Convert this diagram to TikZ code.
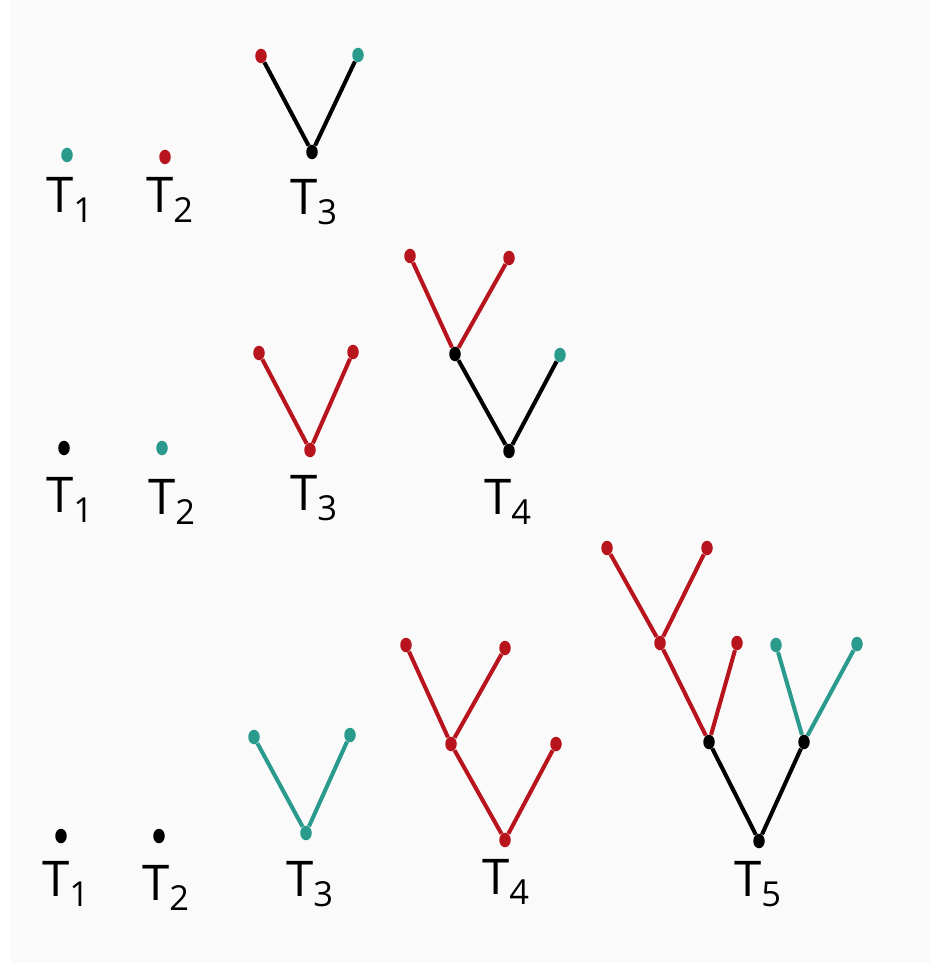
\documentclass[tikz,border=0pt]{standalone}
\usepackage{fontspec}
\newfontfamily\handfont{Open Sans}
\usetikzlibrary{shapes.geometric}
\definecolor{leafred}{HTML}{B8141E}
\definecolor{leafteal}{HTML}{2A9A8C}
\definecolor{paper}{HTML}{FAFAFA}
\tikzset{
  dot/.style={ellipse, fill=#1, inner sep=0pt,
              minimum width=2.3mm, minimum height=2.9mm},
  dot/.default=black,
  branch/.style={line width=2.3pt, #1},
  branch/.default=black,
  tlabel/.style={font=\handfont\fontsize{28}{30}\selectfont}
}
\begin{document}
\begin{tikzpicture}[x=0.2mm, y=-0.2mm]
  \useasboundingbox (0,0) rectangle (930,963);
  \fill[paper] (10,0) rectangle (930,963);

  % Row 1
  \node[dot=leafteal] (a1) at (67,155) {};
  \node[dot=leafred] (a2) at (165,157) {};
  \node[dot=leafred] (a3l) at (261,56) {};
  \node[dot=leafteal] (a3r) at (358,55) {};
  \node[dot] (a3) at (312,152) {};
  \draw[branch] (a3) -- (a3l);
  \draw[branch] (a3) -- (a3r);
  \node[tlabel] (ta1) at (70,200) {T\textsubscript{1}};
  \node[tlabel] (ta2) at (170,200) {T\textsubscript{2}};
  \node[tlabel] (ta3) at (314,202) {T\textsubscript{3}};

  % Row 2
  \node[dot] (b1) at (64,448) {};
  \node[dot=leafteal] (b2) at (162,448) {};
  \node[dot=leafred] (b3l) at (259,353) {};
  \node[dot=leafred] (b3r) at (353,352) {};
  \node[dot=leafred] (b3) at (310,450) {};
  \draw[branch=leafred] (b3) -- (b3l);
  \draw[branch=leafred] (b3) -- (b3r);
  \node[dot=leafred] (b4ll) at (410,256) {};
  \node[dot=leafred] (b4lr) at (509,258) {};
  \node[dot] (b4m) at (455,354) {};
  \node[dot=leafteal] (b4r) at (560,355) {};
  \node[dot] (b4) at (509,451) {};
  \draw[branch=leafred] (b4m) -- (b4ll);
  \draw[branch=leafred] (b4m) -- (b4lr);
  \draw[branch] (b4) -- (b4m);
  \draw[branch] (b4) -- (b4r);
  \node[tlabel] (tb1) at (70,500) {T\textsubscript{1}};
  \node[tlabel] (tb2) at (172,502) {T\textsubscript{2}};
  \node[tlabel] (tb3) at (314,498) {T\textsubscript{3}};
  \node[tlabel] (tb4) at (508,502) {T\textsubscript{4}};

  % Row 3
  \node[dot] (c1) at (61,836) {};
  \node[dot] (c2) at (159,836) {};
  \node[dot=leafteal] (c3l) at (254,737) {};
  \node[dot=leafteal] (c3r) at (350,735) {};
  \node[dot=leafteal] (c3) at (306,833) {};
  \draw[branch=leafteal] (c3) -- (c3l);
  \draw[branch=leafteal] (c3) -- (c3r);
  \node[dot=leafred] (c4ll) at (406,645) {};
  \node[dot=leafred] (c4lr) at (505,648) {};
  \node[dot=leafred] (c4m) at (451,744) {};
  \node[dot=leafred] (c4r) at (556,744) {};
  \node[dot=leafred] (c4) at (505,840) {};
  \draw[branch=leafred] (c4m) -- (c4ll);
  \draw[branch=leafred] (c4m) -- (c4lr);
  \draw[branch=leafred] (c4) -- (c4m);
  \draw[branch=leafred] (c4) -- (c4r);
  \node[dot=leafred] (c5lll) at (607,548) {};
  \node[dot=leafred] (c5llr) at (707,548) {};
  \node[dot=leafred] (c5lm) at (660,643) {};
  \node[dot=leafred] (c5lr) at (737,643) {};
  \node[dot] (c5l) at (709,742) {};
  \node[dot=leafteal] (c5rl) at (776,645) {};
  \node[dot=leafteal] (c5rr) at (857,644) {};
  \node[dot] (c5r) at (804,742) {};
  \node[dot] (c5) at (759,841) {};
  \draw[branch=leafred] (c5lm) -- (c5lll);
  \draw[branch=leafred] (c5lm) -- (c5llr);
  \draw[branch=leafred] (c5l) -- (c5lm);
  \draw[branch=leafred] (c5l) -- (c5lr);
  \draw[branch=leafteal] (c5r) -- (c5rl);
  \draw[branch=leafteal] (c5r) -- (c5rr);
  \draw[branch] (c5) -- (c5l);
  \draw[branch] (c5) -- (c5r);
  \node[tlabel] (tc1) at (66,884) {T\textsubscript{1}};
  \node[tlabel] (tc2) at (166,888) {T\textsubscript{2}};
  \node[tlabel] (tc3) at (310,884) {T\textsubscript{3}};
  \node[tlabel] (tc4) at (506,882) {T\textsubscript{4}};
  \node[tlabel] (tc5) at (758,884) {T\textsubscript{5}};
\end{tikzpicture}
\end{document}
